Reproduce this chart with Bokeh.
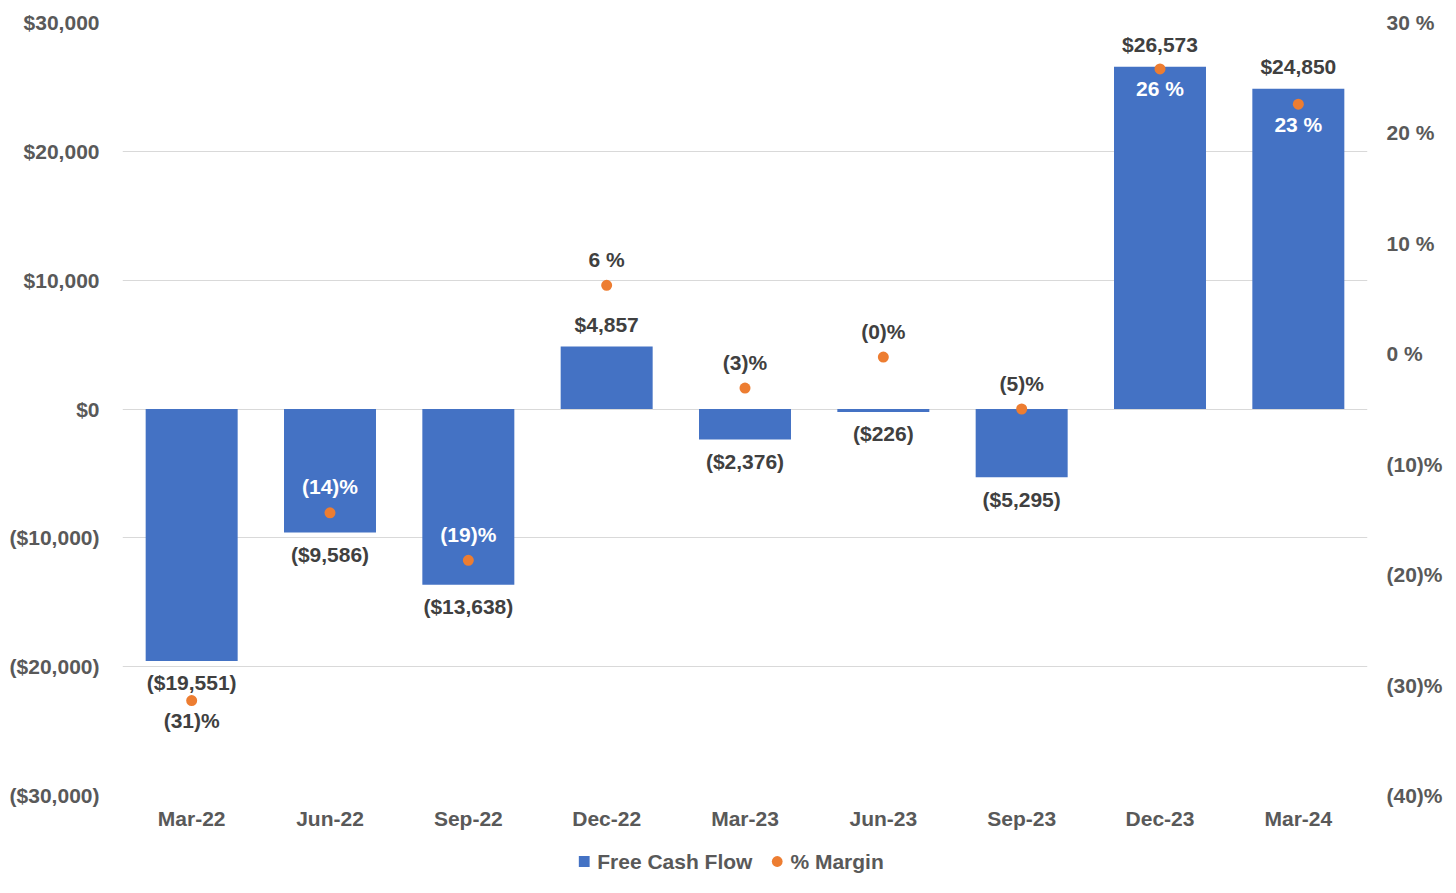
from bokeh.plotting import figure
from bokeh.models import (Range1d, LinearAxis, ColumnDataSource, SingleIntervalTicker,
                          CustomJSTickFormatter, Legend, LegendItem, FactorRange)
from bokeh.layouts import column
from bokeh.embed import file_html
from bokeh.resources import INLINE
from bokeh.core.properties import value

# ---- data ----
quarters = ["Mar-22", "Jun-22", "Sep-22", "Dec-22", "Mar-23", "Jun-23", "Sep-23", "Dec-23", "Mar-24"]
free_cash_flow = [-19551, -9586, -13638, 4857, -2376, -226, -5295, 26573, 24850]
margin_pct = [-31.4, -14.4, -18.7, 6.2, -3.1, -0.3, -5.0, 25.8, 22.6]
series_names = ["Free Cash Flow", "% Margin"]

# ---- style ----
FONT = "Liberation Sans"
FS = "21px"
BAR = "#4472C4"
DOT = "#ED7D31"
AXIS_TXT = "#595959"
LBL = "#404040"
margin_label_side = ["below", "above", "above", "above", "above", "above", "above", "below", "below"]
margin_label_color = [LBL, "white", "white", LBL, LBL, LBL, LBL, "white", "white"]


def fmt_money(v):
    s = "${:,}".format(abs(v))
    return "(" + s + ")" if v < 0 else s


def fmt_pct(v):
    r = int(round(abs(v)))
    return "(%d)%%" % r if v < 0 else "%d %%" % r


p = figure(frame_width=1245, frame_height=773, x_range=FactorRange(*quarters, range_padding=0),
           y_range=Range1d(-30000, 30000), output_backend="svg", toolbar_location=None,
           min_border_left=122, min_border_right=70, min_border_top=22, min_border_bottom=40)
p.extra_y_ranges = {"pct": Range1d(-40, 30)}
p.outline_line_color = None
p.background_fill_color = "white"
p.border_fill_color = "white"

bar_src = ColumnDataSource(dict(x=quarters, y=free_cash_flow))
p.vbar(x="x", top="y", bottom=0, width=0.665, source=bar_src, fill_color=BAR, line_color=None)
p.scatter(x=quarters, y=margin_pct, y_range_name="pct", size=11, fill_color=DOT,
          line_color=None, marker="circle")

# FCF labels
fcf_src = ColumnDataSource(dict(
    x=quarters, y=free_cash_flow, t=[fmt_money(v) for v in free_cash_flow],
    off=[-22 if v >= 0 else 22 for v in free_cash_flow]))
p.text(x="x", y="y", text="t", y_offset="off", source=fcf_src, text_align="center",
       text_baseline="middle", text_font=value(FONT), text_font_size=FS,
       text_font_style="bold", text_color=LBL)

# margin labels
m_src = ColumnDataSource(dict(
    x=quarters, y=margin_pct, t=[fmt_pct(v) for v in margin_pct],
    off=[-26 if s == "above" else 20 for s in margin_label_side], c=margin_label_color))
p.text(x="x", y="y", text="t", y_offset="off", source=m_src, y_range_name="pct",
       text_align="center", text_baseline="middle", text_font=value(FONT),
       text_font_size=FS, text_font_style="bold", text_color="c")

# axes
ya = p.yaxis[0]
ya.ticker = SingleIntervalTicker(interval=10000)
ya.formatter = CustomJSTickFormatter(code="""
const a = Math.abs(tick).toLocaleString('en-US');
return tick < 0 ? '($' + a + ')' : '$' + a;""")
ra = LinearAxis(y_range_name="pct", ticker=SingleIntervalTicker(interval=10))
ra.formatter = CustomJSTickFormatter(code="""
return tick < 0 ? '(' + Math.abs(tick) + ')%' : tick + ' %';""")
p.add_layout(ra, "right")

for ax in [ya, ra, p.xaxis[0]]:
    ax.axis_line_color = None
    ax.major_tick_line_color = None
    ax.minor_tick_line_color = None
    ax.major_tick_out = 0
    ax.major_tick_in = 0
    ax.major_label_text_font = FONT
    ax.major_label_text_font_size = FS
    ax.major_label_text_font_style = "bold"
    ax.major_label_text_color = AXIS_TXT
ya.major_label_standoff = 19
ra.major_label_standoff = 15
p.xaxis[0].major_label_standoff = 11

p.xgrid.grid_line_color = None
p.ygrid.grid_line_color = "#D9D9D9"
p.ygrid.grid_line_width = 1

# ---- legend strip ----
lg = figure(frame_width=1210, frame_height=52, x_range=Range1d(0, 1), y_range=Range1d(0, 1),
            output_backend="svg", toolbar_location=None, x_axis_location=None,
            y_axis_location=None, min_border_left=122, min_border_right=105,
            min_border_top=0, min_border_bottom=0)
lg.outline_line_color = None
lg.xgrid.grid_line_color = None
lg.ygrid.grid_line_color = None
# legend-only renderers (their single point lies outside the strip's range)
leg_bar = lg.scatter(x=[-5], y=[-5], marker="square", fill_color=BAR, line_color=None)
leg_dot = lg.scatter(x=[-5], y=[-5], marker="circle", fill_color=DOT, line_color=None)
legend = Legend(items=[LegendItem(label=series_names[0], renderers=[leg_bar]),
                       LegendItem(label=series_names[1], renderers=[leg_dot])],
                orientation="horizontal", location="center",
                label_text_font=FONT, label_text_font_size=FS, label_text_font_style="bold",
                label_text_color=AXIS_TXT, glyph_width=27, glyph_height=27, label_standoff=0,
                spacing=11, padding=0, margin=0, border_line_color=None,
                background_fill_alpha=0)
lg.add_layout(legend, "center")

layout = column(p, lg, spacing=0)
open("out.html", "w").write(file_html(layout, INLINE))
